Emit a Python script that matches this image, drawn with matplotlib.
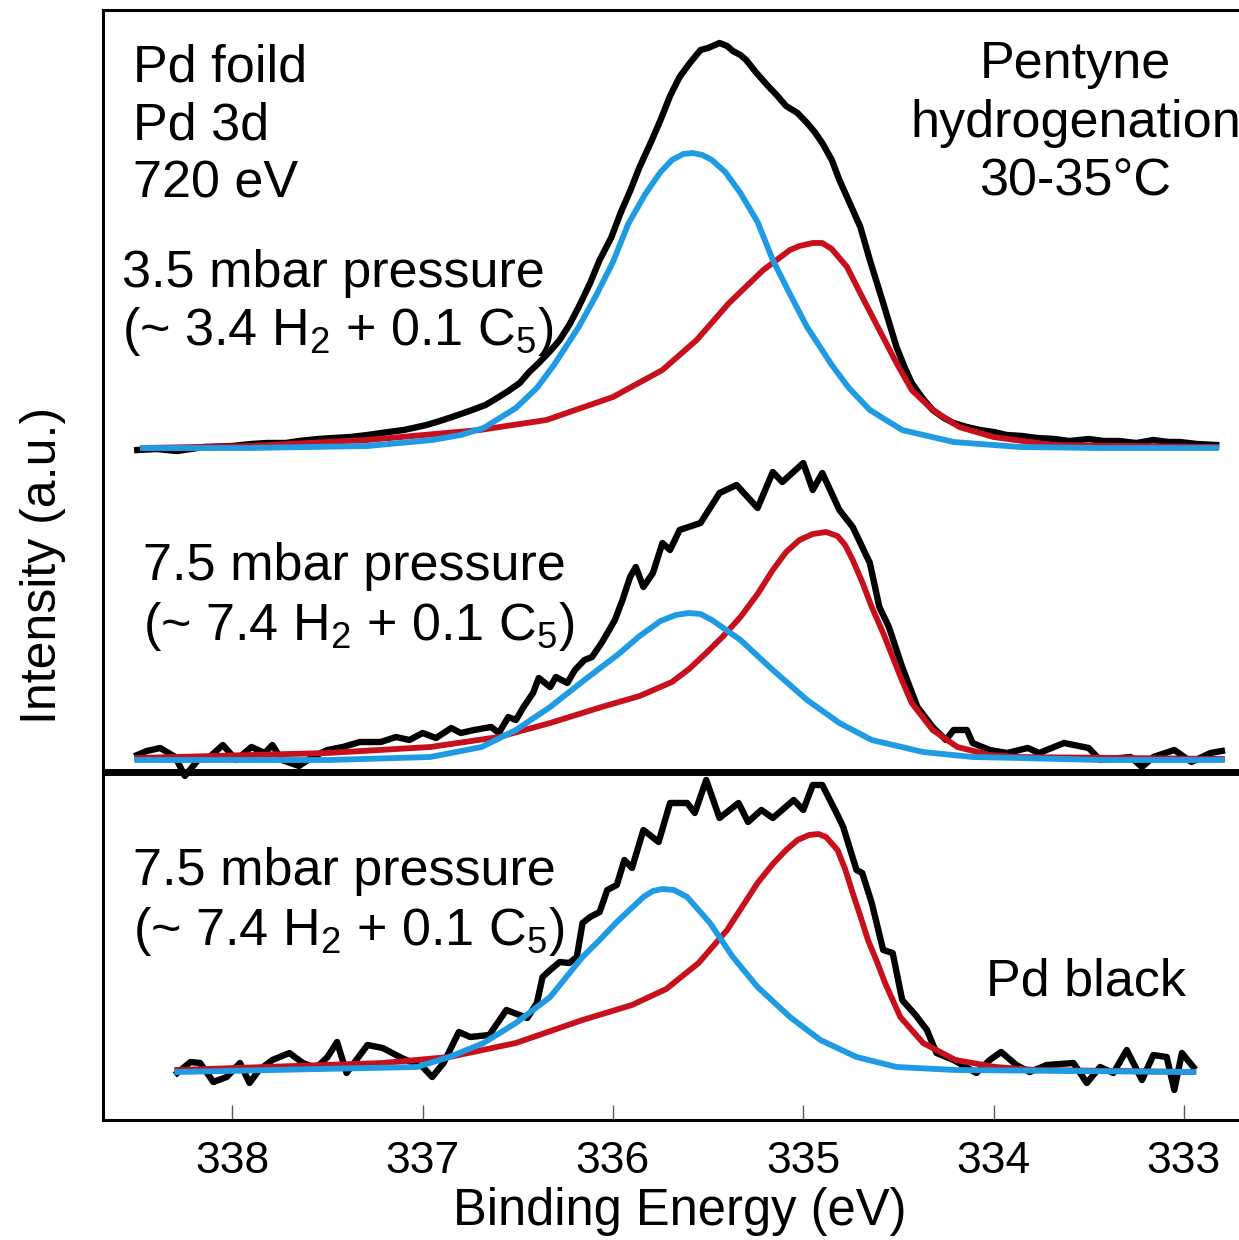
import numpy as np
import matplotlib.pyplot as plt

plt.rcParams['font.family'] = ['Liberation Sans', 'DejaVu Sans']
plt.rcParams['mathtext.fontset'] = 'custom'
plt.rcParams['mathtext.rm'] = 'Liberation Sans'
plt.rcParams['mathtext.it'] = 'Liberation Sans:italic'

# --- Pd foil, 3.5 mbar (top) ---
foil_raw_be = [338.50, 338.40, 338.29, 338.15, 338.00, 337.90, 337.82, 337.72, 337.65, 337.55,
               337.47, 337.38, 337.29, 337.18, 337.10, 337.05, 336.98, 336.91, 336.83, 336.74,
               336.67, 336.60, 336.55, 336.49, 336.44, 336.39, 336.33, 336.28, 336.23, 336.18,
               336.12, 336.07, 336.01, 335.96, 335.91, 335.86, 335.80, 335.75, 335.70, 335.65,
               335.60, 335.54, 335.50, 335.44, 335.40, 335.37, 335.33, 335.30, 335.25, 335.19,
               335.14, 335.09, 335.03, 334.98, 334.94, 334.90, 334.85, 334.81, 334.77, 334.70,
               334.65, 334.58, 334.51, 334.47, 334.43, 334.37, 334.32, 334.26, 334.21, 334.14,
               334.07, 334.00, 333.93, 333.85, 333.77, 333.68, 333.60, 333.50, 333.42, 333.34,
               333.25, 333.16, 333.08, 333.02, 332.93, 332.83]
foil_raw_int = [-0.2, -0.1, -0.3, 0.1, 0.2, 0.4, 0.5, 0.5, 0.7, 0.9,
                1.0, 1.1, 1.3, 1.6, 1.8, 2.0, 2.3, 2.7, 3.2, 3.8,
                4.3, 5.1, 5.7, 6.5, 7.6, 8.5, 9.7, 10.8, 12.3, 14.1,
                16.5, 18.8, 21.0, 23.5, 25.7, 28.1, 30.6, 32.8, 35.2, 37.1,
                38.4, 39.8, 40.0, 40.5, 40.2, 39.7, 39.3, 38.8, 37.6, 36.3,
                35.3, 34.2, 33.5, 32.5, 31.6, 30.5, 28.8, 26.8, 25.1, 22.1,
                18.8, 14.5, 10.1, 8.2, 6.5, 4.9, 3.8, 3.0, 2.5, 2.1,
                1.8, 1.6, 1.3, 1.2, 1.0, 0.9, 0.7, 0.9, 0.7, 0.7,
                0.5, 0.8, 0.6, 0.6, 0.4, 0.3]
foil_c1_be = [338.47, 337.91, 337.29, 336.95, 336.80, 336.68, 336.51, 336.40, 336.31, 336.18,
              336.09, 336.00, 335.92, 335.83, 335.75, 335.69, 335.63, 335.58, 335.53, 335.48,
              335.41, 335.33, 335.24, 335.16, 335.07, 334.98, 334.85, 334.76, 334.65, 334.48,
              334.21, 333.86, 333.44, 332.83]
foil_c1_int = [0.0, 0.0, 0.2, 0.8, 1.3, 2.0, 4.0, 6.0, 8.3, 12.1,
               15.2, 18.6, 22.4, 25.4, 27.6, 28.8, 29.4, 29.5, 29.3, 28.8,
               27.6, 25.5, 22.6, 18.8, 15.4, 12.1, 8.3, 6.0, 3.8, 1.8,
               0.6, 0.1, 0.0, 0.0]
foil_c2_be = [338.47, 337.91, 337.29, 336.70, 336.35, 336.00, 335.74, 335.56, 335.39, 335.21,
              335.07, 335.02, 334.95, 334.90, 334.85, 334.77, 334.69, 334.60, 334.51, 334.43,
              334.32, 334.18, 334.00, 333.69, 332.83]
foil_c2_int = [0.0, 0.2, 0.8, 1.8, 2.8, 5.1, 7.8, 10.8, 14.5, 17.8,
               19.8, 20.2, 20.5, 20.5, 19.9, 18.1, 15.1, 11.8, 8.5, 5.8,
               3.8, 2.1, 1.1, 0.3, 0.1]

# --- Pd foil, 7.5 mbar (middle) ---
mid_raw_be = [338.50, 338.45, 338.38, 338.30, 338.25, 338.18, 338.12, 338.05, 337.98, 337.90,
              337.83, 337.79, 337.74, 337.65, 337.58, 337.50, 337.42, 337.33, 337.22, 337.14,
              337.07, 337.00, 336.93, 336.85, 336.80, 336.73, 336.64, 336.60, 336.55, 336.51,
              336.47, 336.42, 336.39, 336.33, 336.30, 336.24, 336.20, 336.15, 336.11, 336.06,
              336.02, 335.99, 335.95, 335.91, 335.88, 335.84, 335.79, 335.74, 335.70, 335.65,
              335.54, 335.44, 335.35, 335.24, 335.16, 335.11, 335.00, 334.95, 334.90, 334.81,
              334.74, 334.65, 334.60, 334.55, 334.48, 334.40, 334.32, 334.25, 334.21, 334.14,
              334.11, 334.02, 333.93, 333.82, 333.76, 333.63, 333.50, 333.44, 333.28, 333.22,
              333.16, 333.05, 332.96, 332.86, 332.80]
mid_raw_int = [0.5, 0.9, 1.2, 0.3, -1.6, 0.0, 0.3, 1.5, 0.0, 1.3,
               0.7, 1.5, 0.0, -0.6, 0.3, 1.0, 1.3, 1.8, 1.8, 2.3,
               2.0, 2.7, 2.2, 3.2, 2.7, 3.0, 3.3, 2.7, 4.3, 4.0,
               5.3, 6.7, 8.2, 7.3, 8.3, 7.7, 9.0, 10.0, 10.3, 11.7,
               13.0, 14.0, 16.0, 18.3, 19.3, 17.3, 18.7, 21.7, 21.0, 23.0,
               23.7, 26.7, 27.5, 25.2, 28.8, 27.8, 29.7, 27.0, 28.7, 25.0,
               23.3, 19.7, 15.3, 13.3, 9.3, 5.3, 3.3, 2.0, 3.0, 3.0,
               1.7, 1.0, 0.7, 1.2, 0.7, 1.7, 1.2, 0.0, 0.3, -0.7,
               0.3, 1.0, -0.2, 0.7, 0.9]
mid_c1_be = [338.50, 337.49, 336.96, 336.69, 336.51, 336.33, 336.15, 335.97, 335.86, 335.75,
             335.67, 335.60, 335.54, 335.48, 335.33, 335.16, 334.98, 334.81, 334.64, 334.37,
             334.11, 333.86, 333.44, 332.80]
mid_c1_int = [0.0, 0.0, 0.3, 1.3, 3.0, 5.3, 8.0, 10.6, 12.4, 13.9,
              14.5, 14.7, 14.6, 14.0, 12.0, 9.0, 6.0, 3.7, 2.0, 0.8,
              0.3, 0.2, 0.0, 0.0]
mid_c2_be = [338.50, 337.50, 336.96, 336.60, 336.33, 336.06, 335.86, 335.69, 335.60, 335.51,
             335.42, 335.33, 335.24, 335.16, 335.09, 335.02, 334.95, 334.88, 334.82, 334.78,
             334.74, 334.69, 334.64, 334.58, 334.53, 334.48, 334.43, 334.32, 334.19, 334.02,
             333.86, 332.80]
mid_c2_int = [0.2, 0.7, 1.3, 2.3, 3.7, 5.3, 6.4, 7.8, 9.1, 10.7,
              12.4, 14.3, 16.6, 19.0, 20.8, 22.0, 22.6, 22.8, 22.4, 21.5,
              20.0, 17.8, 15.3, 12.7, 10.3, 7.9, 5.7, 3.0, 1.3, 0.5,
              0.3, 0.1]

# --- Pd black, 7.5 mbar (bottom) ---
blk_raw_be = [338.29, 338.22, 338.17, 338.10, 338.03, 337.96, 337.91, 337.86, 337.79, 337.70,
              337.63, 337.56, 337.50, 337.45, 337.40, 337.29, 337.21, 337.11, 337.00, 336.95,
              336.89, 336.81, 336.75, 336.65, 336.56, 336.45, 336.40, 336.37, 336.33, 336.28,
              336.23, 336.19, 336.16, 336.12, 336.07, 336.03, 335.98, 335.94, 335.90, 335.84,
              335.76, 335.70, 335.61, 335.57, 335.51, 335.44, 335.34, 335.29, 335.22, 335.16,
              335.05, 335.00, 334.95, 334.90, 334.82, 334.79, 334.72, 334.69, 334.64, 334.58,
              334.53, 334.48, 334.41, 334.35, 334.30, 334.21, 334.09, 334.02, 333.96, 333.88,
              333.81, 333.72, 333.58, 333.51, 333.44, 333.37, 333.30, 333.22, 333.16, 333.09,
              333.05, 333.01, 332.95]
blk_raw_int = [-0.1, 1.0, 0.9, -1.0, -0.5, 0.9, -1.1, 0.2, 1.2, 1.9,
               0.9, 0.4, 1.5, 3.0, -0.1, 2.7, 2.4, 1.4, 0.5, -0.5,
               0.9, 4.0, 3.5, 3.7, 6.2, 5.4, 6.9, 9.5, 10.2, 11.0,
               10.9, 11.5, 14.9, 15.5, 16.0, 18.2, 18.7, 21.2, 20.4, 24.2,
               23.0, 26.9, 26.9, 25.9, 29.2, 25.4, 26.9, 25.0, 26.2, 25.4,
               27.2, 26.2, 28.7, 28.7, 25.7, 24.5, 20.2, 19.9, 16.9, 12.2,
               11.9, 7.2, 5.7, 4.2, 1.9, 1.2, -0.1, 1.2, 2.0, 0.7,
               0.0, 0.7, 0.9, -1.1, 0.5, -0.1, 2.2, -0.8, 1.7, 1.5,
               -1.8, 1.9, 0.5]
blk_c1_be = [338.29, 337.03, 336.86, 336.68, 336.51, 336.33, 336.16, 336.07, 335.98, 335.84,
             335.79, 335.74, 335.68, 335.61, 335.49, 335.37, 335.24, 335.07, 334.91, 334.72,
             334.51, 334.20, 332.95]
blk_c1_int = [0.0, 0.5, 1.5, 2.9, 4.9, 7.5, 11.5, 13.2, 15.0, 17.5,
              18.1, 18.3, 18.2, 17.5, 14.9, 11.5, 8.5, 5.5, 3.2, 1.5,
              0.5, 0.2, 0.0]
blk_c2_be = [338.29, 337.21, 336.86, 336.51, 336.16, 335.90, 335.72, 335.55, 335.40, 335.24,
             335.16, 335.09, 335.03, 334.97, 334.92, 334.88, 334.82, 334.78, 334.74, 334.70,
             334.66, 334.61, 334.57, 334.49, 334.37, 334.20, 333.99, 333.78, 332.95]
blk_c2_int = [0.2, 0.9, 1.5, 2.9, 5.2, 6.7, 8.3, 10.9, 14.2, 18.9,
              20.8, 22.2, 23.2, 23.7, 23.8, 23.5, 22.2, 20.3, 17.9, 15.6,
              13.2, 10.9, 8.9, 5.5, 2.9, 1.2, 0.5, 0.2, 0.0]

xticks = [338, 337, 336, 335, 334, 333]
offsets = [67.2, 36.0, 4.8]
blue = '#1e9be3'
red = '#c8101c'

fig = plt.figure(figsize=(12.39, 12.40), dpi=100)
ax = fig.add_axes([103 / 1239, 120 / 1240, 1 - 103 / 1239, 1110 / 1240])

spectra = [
    (foil_raw_be, foil_raw_int, foil_c1_be, foil_c1_int, foil_c2_be, foil_c2_int),
    (mid_raw_be, mid_raw_int, mid_c1_be, mid_c1_int, mid_c2_be, mid_c2_int),
    (blk_raw_be, blk_raw_int, blk_c1_be, blk_c1_int, blk_c2_be, blk_c2_int),
]
for (rb, ri, b1, i1, b2, i2), off in zip(spectra, offsets):
    ax.plot(rb, np.array(ri) + off, color='k', lw=4.6)
    ax.plot(b2, np.array(i2) + off, color=red, lw=4.2)
    ax.plot(b1, np.array(i1) + off, color=blue, lw=4.2)

ax.axhline(34.8, color='k', lw=5)

ax.set_xlim(338.68, 332.71)
ax.set_ylim(0, 111)
ax.set_xticks(xticks)
ax.set_yticks([])
ax.tick_params(axis='x', direction='in', length=11, width=1, color='0.35',
               labelsize=32, pad=15)
ax.spines['right'].set_visible(False)
for s in ['left', 'top', 'bottom']:
    ax.spines[s].set_linewidth(2.2)

ax.set_xlabel('Binding Energy (eV)', fontsize=36.5, va='baseline')
ax.xaxis.set_label_coords(0.508, -0.0945)
ax.set_ylabel('Intensity (a.u.)', fontsize=36, va='center')
ax.yaxis.set_label_coords(-0.0525, 0.5)

fs = 37.5
ax.text(338.52, 103.9, 'Pd foild', fontsize=fs, va='baseline')
ax.text(338.52, 98.1, 'Pd 3d', fontsize=fs, va='baseline')
ax.text(338.52, 92.3, '720 eV', fontsize=fs, va='baseline')
ax.text(338.58, 83.3, '3.5 mbar pressure', fontsize=fs, va='baseline')
ax.text(338.58, 77.5, '(~ 3.4 H$_2$ + 0.1 C$_5$)', fontsize=fs, va='baseline')
ax.text(333.57, 104.2, 'Pentyne', fontsize=fs, ha='center', va='baseline')
ax.text(333.57, 98.3, 'hydrogenation', fontsize=fs, ha='center', va='baseline')
ax.text(333.57, 92.5, '30-35°C', fontsize=fs, ha='center', va='baseline')
ax.text(338.47, 54.0, '7.5 mbar pressure', fontsize=fs, va='baseline')
ax.text(338.47, 48.0, '(~ 7.4 H$_2$ + 0.1 C$_5$)', fontsize=fs, va='baseline')
ax.text(338.52, 23.5, '7.5 mbar pressure', fontsize=fs, va='baseline')
ax.text(338.52, 17.5, '(~ 7.4 H$_2$ + 0.1 C$_5$)', fontsize=fs, va='baseline')
ax.text(334.04, 12.5, 'Pd black', fontsize=fs, va='baseline')

fig.savefig('out.png', dpi=100)
